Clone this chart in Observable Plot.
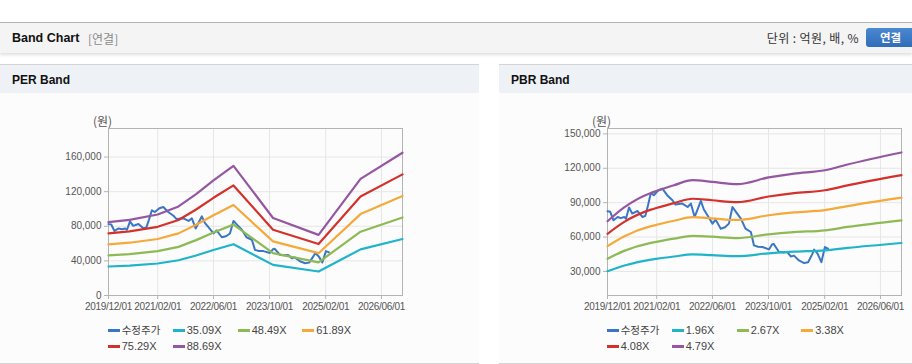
<!DOCTYPE html>
<html><head><meta charset="utf-8">
<script src="https://cdn.jsdelivr.net/npm/d3@7"></script>
<script src="https://cdn.jsdelivr.net/npm/@observablehq/plot@0.6"></script>
<style>
body{margin:0;width:912px;height:364px;background:#fff;position:relative;overflow:hidden;font-family:"Liberation Sans","Noto Sans CJK KR",sans-serif;}
.abs{position:absolute}
#topline{left:0;top:22px;width:912px;height:1px;background:#b4b4b4}
#hdr{left:0;top:23px;width:912px;height:30px;background:#f4f4f4;box-shadow:0 2px 3px rgba(0,0,0,0.13)}
#title{left:12px;top:30px;font-size:12.5px;font-weight:bold;color:#111;line-height:16px}
#sub{left:88px;top:31px;font-size:12px;color:#8a8a8a;line-height:16px;font-family:"Noto Sans CJK KR",sans-serif}
#unit{right:53px;top:30px;font-size:12px;letter-spacing:0.4px;color:#333;line-height:16px;font-family:"Noto Sans CJK KR",sans-serif;white-space:nowrap}
#btn{left:866px;top:28px;width:50px;height:19px;background:linear-gradient(#4a88d2,#2f6db8);border-radius:3px;color:#fff;font-weight:bold;font-size:11.5px;line-height:19px;text-align:left;padding-left:14px;box-sizing:border-box;font-family:"Noto Sans CJK KR",sans-serif}
.panel{top:64px;height:298px;background:#fcfcfc;border-top:1px solid #d4d4d4;border-bottom:1px solid #d4d4d4}
.phead{position:absolute;left:0;top:0;right:0;height:28px;background:#eef2f6}
.ptitle{position:absolute;left:12px;top:7px;font-size:12px;font-weight:bold;color:#111;line-height:16px}
.chart{position:absolute;top:93px}
.lg{position:absolute;font-family:"Liberation Sans Narrow","Liberation Sans",sans-serif;font-size:11px;color:#444;line-height:12px;height:12px;white-space:nowrap}
.lg .t{display:inline-block;height:12px;line-height:12px;vertical-align:middle}
.sw{display:inline-block;width:12px;height:3px;vertical-align:middle;margin-right:2px}
.kr{font-family:"Noto Sans CJK KR",sans-serif;font-size:10.5px}
</style>
</head><body>
<div class="abs" id="topline"></div>
<div class="abs" id="hdr"></div>
<div class="abs" id="title">Band Chart</div>
<div class="abs" id="sub">[연결]</div>
<div class="abs" id="unit">단위 : 억원, 배, %</div>
<div class="abs" id="btn">연결</div>
<div class="abs panel" style="left:0;width:479px"><div class="phead"><div class="ptitle">PER Band</div></div></div>
<div class="abs panel" style="left:499px;width:413px"><div class="phead"><div class="ptitle">PBR Band</div></div></div>
<div id="perChart" class="chart" style="left:0"></div>
<div id="pbrChart" class="chart" style="left:499px"></div>
<script>
// ---------- data ----------
const xTickDates = ["2019-12-01","2021-02-01","2022-06-01","2023-10-01","2025-02-01","2026-06-01"];
const perYTicks = [0, 40000, 80000, 120000, 160000];
const pbrYTicks = [30000, 60000, 90000, 120000, 150000];

const seriesColors = ["#3a76c4", "#1fb4c9", "#8dba55", "#f4a93a", "#d3312c", "#9556a2"];
const perLabels = ["수정주가", "35.09X", "48.49X", "61.89X", "75.29X", "88.69X"];
const pbrLabels = ["수정주가", "1.96X", "2.67X", "3.38X", "4.08X", "4.79X"];

// 수정주가 (adjusted price)
const priceDates = ["2019-12-01","2019-12-25","2020-01-22","2020-02-28","2020-03-25","2020-04-25","2020-05-10","2020-06-05","2020-07-03","2020-08-18","2020-10-01","2020-10-25","2020-11-18","2020-12-12","2021-01-07","2021-02-15","2021-03-22","2021-05-03","2021-06-18","2021-07-15","2021-09-12","2021-10-28","2021-11-25","2021-12-28","2022-01-20","2022-02-20","2022-03-18","2022-04-18","2022-06-01","2022-06-28","2022-08-12","2022-09-18","2022-10-22","2022-11-22","2022-12-22","2023-02-03","2023-03-15","2023-05-01","2023-05-28","2023-07-01","2023-08-10","2023-10-05","2023-11-01","2023-11-15","2023-12-03","2024-01-01","2024-02-10","2024-03-12","2024-04-12","2024-05-10","2024-06-22","2024-08-06","2024-09-10","2024-10-18","2024-11-01","2024-12-01","2025-01-03","2025-02-03","2025-03-01"];
const priceValues = [82500,82000,74600,77500,76500,77500,76000,85700,80500,82700,77500,78500,88000,98500,96500,100800,102300,96500,92100,88300,89200,86200,89200,77500,83500,91500,84000,79000,71700,75200,67300,68500,71700,86200,81900,76000,67300,64400,52700,51500,51300,49200,53500,54000,51300,46900,46500,46900,43100,43800,39600,37300,38000,45500,49000,45500,38100,51300,49800];

// PER band lines
const perDates = ["2019-12-01","2020-06-01","2021-02-01","2021-08-01","2022-01-01","2022-06-01","2022-11-22","2023-11-01","2024-12-01","2025-12-01","2026-12-01"];
const per3509 = [33500,34600,37000,40700,46300,52600,59300,35400,27700,53300,65300];
const per4849 = [46300,47800,51200,56200,64000,72700,81900,49000,38300,73700,90200];
const per6189 = [59100,61000,65300,71800,81700,92800,104600,62500,48900,94100,115100];
const per7529 = [71900,74200,79400,87300,99400,112900,127200,76000,59500,114400,140000];
const per8869 = [84700,87400,93600,102900,117100,133000,149900,89600,70100,134800,165000];

// PBR band lines
const pbrDates = ["2019-12-01","2020-04-18","2020-12-12","2021-01-28","2021-07-01","2021-12-10","2022-05-28","2023-01-03","2023-10-03","2024-05-10","2025-02-03","2025-08-18","2026-12-01"];
const pbr196 = [30200,35000,40300,41000,43000,44800,44200,43400,45800,47200,48400,50500,54800];
const pbr267 = [41100,47700,54900,55800,58600,61100,60300,59100,62400,64300,65900,68800,74600];
const pbr338 = [52100,60300,69500,70600,74200,77300,76300,74900,79000,81500,83500,87000,94400];
const pbr408 = [62800,72800,83900,85300,89600,93400,92100,90400,95400,98300,100800,105100,114000];
const pbr479 = [73800,85500,98500,100100,105200,109600,108100,106100,112000,115400,118300,123300,133800];

// ---------- drawing ----------
const toRows = (dates, vals) => dates.map((d, i) => ({date: new Date(d), v: vals[i]}));
const xTicks = xTickDates.map(d => new Date(d));
const fmtDate = d3.utcFormat("%Y/%m/%d");

function makeChart(opts) {
  const {width, marginRight, yDomain, yTicks, bandDates, bands, curve} = opts;
  const marks = [
    Plot.gridX(xTicks, {stroke: "#e6e6e6", strokeOpacity: 1}),
    Plot.gridY(yTicks, {stroke: "#e6e6e6", strokeOpacity: 1}),
    Plot.frame({stroke: "#b3b3b3"}),
    Plot.axisX(xTicks, {tickFormat: fmtDate, tickSize: 4, tickPadding: 3, stroke: "#b3b3b3", label: null}),
    Plot.axisY(yTicks, {tickFormat: d3.format(","), tickSize: 4, tickPadding: 3, stroke: "#b3b3b3", label: null}),
    Plot.line(toRows(priceDates, priceValues), {x: "date", y: "v", stroke: seriesColors[0], strokeWidth: 2, curve: "linear"})
  ];
  bands.forEach((vals, i) => {
    marks.push(Plot.line(toRows(bandDates, vals), {x: "date", y: "v", stroke: seriesColors[i + 1], strokeWidth: 2.2, curve}));
  });
  marks.push(Plot.text(["(원)"], {frameAnchor: "top-left", dx: -6, dy: -11, textAnchor: "middle", fontSize: 12, fill: "#555", fontFamily: "Noto Sans CJK KR"}));
  return Plot.plot({
    width, height: 230,
    marginLeft: 108, marginRight, marginTop: 35, marginBottom: 28,
    style: {fontFamily: "'Liberation Sans Narrow','Liberation Sans',sans-serif", fontSize: "10px", color: "#555", background: "transparent", overflow: "visible"},
    x: {type: "utc", domain: [new Date("2019-12-01"), new Date("2026-12-01")]},
    y: {domain: yDomain},
    marks
  });
}

document.getElementById("perChart").append(makeChart({
  width: 479, marginRight: 77, yDomain: [0, 193000], yTicks: perYTicks,
  bandDates: perDates, bands: [per3509, per4849, per6189, per7529, per8869], curve: "linear"
}));
document.getElementById("pbrChart").append(makeChart({
  width: 413, marginRight: 11, yDomain: [9000, 154700], yTicks: pbrYTicks,
  bandDates: pbrDates, bands: [pbr196, pbr267, pbr338, pbr408, pbr479], curve: "monotone-x"
}));
// slight gap between neighbouring x tick labels
document.querySelectorAll("svg [aria-label='x-axis tick label'] text").forEach(t => t.setAttribute("letter-spacing", "-0.3"));

// legends
function legend(labels, left) {
  const xs = [0, 65, 130, 194.5, 0, 65];
  labels.forEach((lab, i) => {
    const el = document.createElement("div");
    el.className = "lg";
    el.style.left = (left + xs[i]) + "px";
    el.style.top = (i < 4 ? 323 : 339) + "px";
    el.innerHTML = `<span class="sw" style="background:${seriesColors[i]}"></span><span class="t ${i === 0 ? "kr" : ""}">${lab}</span>`;
    document.body.append(el);
  });
}
legend(perLabels, 107.7);
legend(pbrLabels, 606.7);
</script>
</body></html>
